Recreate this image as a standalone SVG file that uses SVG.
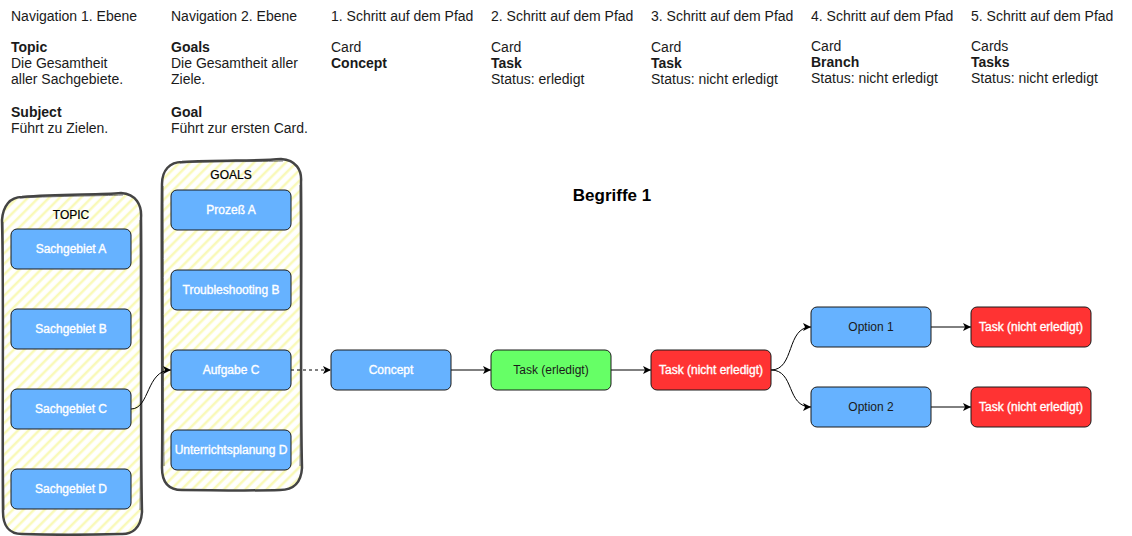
<svg xmlns="http://www.w3.org/2000/svg" width="1132" height="536" viewBox="0 0 1132 536">
<style>
.hd{font-family:"Liberation Sans",Arial,sans-serif;font-size:14px;fill:#1a1a1a}
.b{font-weight:bold}
.nd{stroke:#1a1a1a;stroke-width:1}
.blue{fill:#66B2FF}
.green{fill:#66FF66}
.red{fill:#FF3333}
.nt{font-family:"Liberation Sans",Arial,sans-serif;font-size:12px;text-anchor:middle}
.w{fill:#fff;stroke:#fff;stroke-width:0.35}
.k{fill:#1a1a1a}
.cont{fill:url(#hatch);stroke:#444;stroke-width:2.5;stroke-linejoin:round}
.ct{font-family:"Liberation Sans",Arial,sans-serif;font-size:12px;text-anchor:middle;fill:#000;stroke:#000;stroke-width:0.2}
.edge{fill:none;stroke:#000;stroke-width:1}
</style>
<defs>
<pattern id="hatch" patternUnits="userSpaceOnUse" width="7.5" height="7.5" patternTransform="rotate(45)">
<rect width="7.5" height="7.5" fill="#fff"/>
<line x1="2" y1="0" x2="2" y2="7.5" stroke="#F9F9B8" stroke-width="2.5"/>
</pattern>
<marker id="arr" markerUnits="userSpaceOnUse" markerWidth="10" markerHeight="10" refX="8" refY="4" orient="auto">
<path d="M0,0 L8,4 L0,8 L2,4 z" fill="#000"/>
</marker>
</defs>
<rect width="1132" height="536" fill="#fff"/>

<g id="headers">
<text class="hd" x="11" y="21">Navigation 1. Ebene</text>
<text class="hd b" x="11" y="52">Topic</text>
<text class="hd" x="11" y="68">Die Gesamtheit</text>
<text class="hd" x="11" y="84">aller Sachgebiete.</text>
<text class="hd b" x="11" y="117">Subject</text>
<text class="hd" x="11" y="133">Führt zu Zielen.</text>

<text class="hd" x="171" y="21">Navigation 2. Ebene</text>
<text class="hd b" x="171" y="52">Goals</text>
<text class="hd" x="171" y="68">Die Gesamtheit aller</text>
<text class="hd" x="171" y="84">Ziele.</text>
<text class="hd b" x="171" y="117">Goal</text>
<text class="hd" x="171" y="133">Führt zur ersten Card.</text>

<text class="hd" x="331" y="21">1. Schritt auf dem Pfad</text>
<text class="hd" x="331" y="52">Card</text>
<text class="hd b" x="331" y="68">Concept</text>

<text class="hd" x="491" y="21">2. Schritt auf dem Pfad</text>
<text class="hd" x="491" y="52">Card</text>
<text class="hd b" x="491" y="68">Task</text>
<text class="hd" x="491" y="84">Status: erledigt</text>

<text class="hd" x="651" y="21">3. Schritt auf dem Pfad</text>
<text class="hd" x="651" y="52">Card</text>
<text class="hd b" x="651" y="68">Task</text>
<text class="hd" x="651" y="84">Status: nicht erledigt</text>

<text class="hd" x="811" y="21">4. Schritt auf dem Pfad</text>
<text class="hd" x="811" y="51">Card</text>
<text class="hd b" x="811" y="67">Branch</text>
<text class="hd" x="811" y="83">Status: nicht erledigt</text>

<text class="hd" x="971" y="21">5. Schritt auf dem Pfad</text>
<text class="hd" x="971" y="51">Cards</text>
<text class="hd b" x="971" y="67">Tasks</text>
<text class="hd" x="971" y="83">Status: nicht erledigt</text>
</g>

<text id="title" x="612" y="201" font-family="Liberation Sans,Arial,sans-serif" font-size="17" font-weight="bold" text-anchor="middle" fill="#000">Begriffe 1</text>

<g id="topic">
<path class="cont" d="M22,197 C60,194 100,195 121,193 C136,194 142,205 141,218 C142,300 140,420 142,512 C141,528 132,535 120,534 C85,535 50,535 22,534 C8,534 3,524 3,512 C2,420 4,300 2,220 C3,206 10,197 22,197 Z"/>
<path d="M20,198 C60,196 100,196 123,195 M140,220 C140,320 141,430 140,510 M3,222 C4,320 3,430 4,510" fill="none" stroke="#444" stroke-width="1" opacity="0.7"/>
<text class="ct" x="71" y="219">TOPIC</text>
</g>

<g id="goals">
<path class="cont" d="M182,162 C220,160 260,161 281,159 C296,160 302,170 301,182 C302,260 300,380 302,468 C301,484 292,490 280,490 C245,491 210,490 182,490 C168,490 162,482 162,468 C163,380 161,260 162,184 C162,170 170,162 182,162 Z"/>
<path d="M180,163 C220,161 260,162 283,161 M300,185 C300,280 301,390 300,466 M163,186 C164,280 163,390 164,466" fill="none" stroke="#444" stroke-width="1" opacity="0.7"/>
<text class="ct" x="231" y="179">GOALS</text>
</g>

<g id="connectors">
<path class="edge" d="M131,409 C150,409 146,370 171,370" marker-end="url(#arr)"/>
<path class="edge" d="M291,370 L331,370" stroke-dasharray="3,3" marker-end="url(#arr)"/>
<path class="edge" d="M451,370 L491,370" marker-end="url(#arr)"/>
<path class="edge" d="M611,370 L651,370" marker-end="url(#arr)"/>
<path class="edge" d="M771,370 C795,370 786,327 811,327" marker-end="url(#arr)"/>
<path class="edge" d="M771,370 C795,370 786,407 811,407" marker-end="url(#arr)"/>
<path class="edge" d="M931,327 L971,327" marker-end="url(#arr)"/>
<path class="edge" d="M931,407 L971,407" marker-end="url(#arr)"/>
</g>

<g id="sachgebiet-a"><rect class="nd blue" x="11" y="229" width="120" height="40" rx="6"/><text class="nt w" x="71" y="253">Sachgebiet A</text></g>
<g id="sachgebiet-b"><rect class="nd blue" x="11" y="309" width="120" height="40" rx="6"/><text class="nt w" x="71" y="333">Sachgebiet B</text></g>
<g id="sachgebiet-c"><rect class="nd blue" x="11" y="389" width="120" height="40" rx="6"/><text class="nt w" x="71" y="413">Sachgebiet C</text></g>
<g id="sachgebiet-d"><rect class="nd blue" x="11" y="469" width="120" height="40" rx="6"/><text class="nt w" x="71" y="493">Sachgebiet D</text></g>

<g id="prozess-a"><rect class="nd blue" x="171" y="190" width="120" height="40" rx="6"/><text class="nt w" x="231" y="214">Prozeß A</text></g>
<g id="troubleshooting-b"><rect class="nd blue" x="171" y="270" width="120" height="40" rx="6"/><text class="nt w" x="231" y="294">Troubleshooting B</text></g>
<g id="aufgabe-c"><rect class="nd blue" x="171" y="350" width="120" height="40" rx="6"/><text class="nt w" x="231" y="374">Aufgabe C</text></g>
<g id="unterrichtsplanung-d"><rect class="nd blue" x="171" y="430" width="120" height="40" rx="6"/><text class="nt w" x="231" y="454">Unterrichtsplanung D</text></g>

<g id="concept"><rect class="nd blue" x="331" y="350" width="120" height="40" rx="6"/><text class="nt w" x="391" y="374">Concept</text></g>
<g id="task-erledigt"><rect class="nd green" x="491" y="350" width="120" height="40" rx="6"/><text class="nt k" x="551" y="374">Task (erledigt)</text></g>
<g id="task-nicht-erledigt"><rect class="nd red" x="651" y="350" width="120" height="40" rx="6"/><text class="nt w" x="711" y="374">Task (nicht erledigt)</text></g>
<g id="option-1"><rect class="nd blue" x="811" y="307" width="120" height="40" rx="6"/><text class="nt k" x="871" y="331">Option 1</text></g>
<g id="option-2"><rect class="nd blue" x="811" y="387" width="120" height="40" rx="6"/><text class="nt k" x="871" y="411">Option 2</text></g>
<g id="task-1"><rect class="nd red" x="971" y="307" width="120" height="40" rx="6"/><text class="nt w" x="1031" y="331">Task (nicht erledigt)</text></g>
<g id="task-2"><rect class="nd red" x="971" y="387" width="120" height="40" rx="6"/><text class="nt w" x="1031" y="411">Task (nicht erledigt)</text></g>
</svg>
